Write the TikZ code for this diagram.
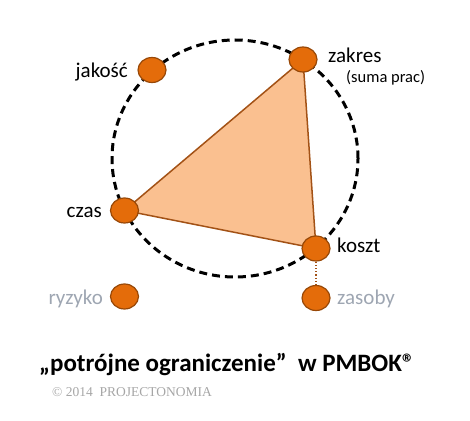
\documentclass[tikz,border=0pt]{standalone}
\usepackage{fontspec}
\setmainfont{Carlito}
\newfontfamily\copyfont{Liberation Serif}
\usetikzlibrary{shapes.geometric}
\definecolor{dotfill}{RGB}{228,108,10}
\definecolor{dotedge}{RGB}{152,72,7}
\definecolor{trifill}{RGB}{250,192,144}
\definecolor{triedge}{RGB}{163,82,22}
\definecolor{faded}{RGB}{158,166,178}
\begin{document}
\begin{tikzpicture}[x=1pt,y=-1pt,
  dot/.style={ellipse,draw=dotedge,fill=dotfill,line width=1.2pt,minimum width=28pt,minimum height=25pt,inner sep=0pt},
  lbl/.style={font=\fontsize{21}{24}\selectfont,inner sep=0pt}]
  \useasboundingbox (0,0) rectangle (470,420);
  \draw[line width=3pt,dash pattern=on 8pt off 5pt] (235,158.5) ellipse [x radius=123pt, y radius=118.5pt];
  \coordinate (pJakosc) at (152,70);
  \coordinate (pZakres) at (303,59.5);
  \coordinate (pCzas) at (124.5,210.5);
  \coordinate (pKoszt) at (316,248.5);
  \coordinate (pRyzyko) at (124.5,296.5);
  \coordinate (pZasoby) at (316,298);
  \draw[fill=trifill,draw=triedge,line width=1.5pt,line join=round] (pZakres) -- (pCzas) -- (pKoszt) -- cycle;
  \node[dot] (jakosc) at (pJakosc){};
  \node[dot] (zakres) at (pZakres){};
  \node[dot] (czas) at (pCzas){};
  \node[dot] (koszt) at (pKoszt){};
  \node[dot] (ryzyko) at (pRyzyko){};
  \node[dot] (zasoby) at (pZasoby){};
  \draw[triedge,line width=1.2pt,dotted] (koszt) -- (zasoby);
  \node[lbl,anchor=base east] (lJakosc) at (128,77) {jakość};
  \node[lbl,anchor=base west] (lZakres) at (328,63) {zakres};
  \node[font=\fontsize{16.5}{19}\selectfont,inner sep=0pt,anchor=base west] (lSuma) at (346,82.7) {(suma prac)};
  \node[lbl,anchor=base east] (lCzas) at (102,217) {czas};
  \node[lbl,anchor=base west] (lKoszt) at (337,252) {koszt};
  \node[lbl,anchor=base east,text=faded] (lRyzyko) at (103,304) {ryzyko};
  \node[lbl,anchor=base west,text=faded] (lZasoby) at (337,304) {zasoby};
  \node[font=\bfseries\fontsize{25}{30}\selectfont,inner sep=0pt,anchor=base west] (title) at (39,371.7) {„potrójne ograniczenie”\ \ w PMBOK®};
  \node[font=\copyfont\fontsize{13.5}{16}\selectfont,text=gray!70,inner sep=0pt,anchor=base west] (copy) at (52,396.7) {© 2014\ \ PROJECTONOMIA};
\end{tikzpicture}
\end{document}
